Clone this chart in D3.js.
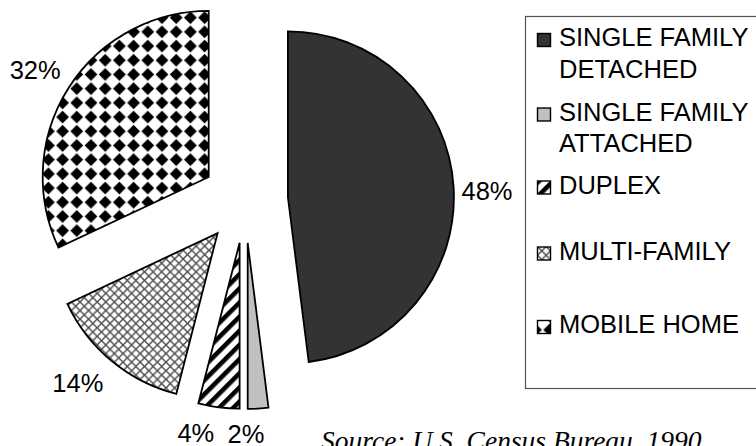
<!DOCTYPE html>
<html>
<head>
<meta charset="utf-8">
<script src="https://cdn.jsdelivr.net/npm/d3@7"></script>
<style>
  html, body { margin: 0; padding: 0; background: #fff; }
  svg { display: block; }
</style>
</head>
<body>
<svg id="chart" width="756" height="446"></svg>
<script>
// Housing types, share of units (percent)
const categories = [
  "SINGLE FAMILY DETACHED",
  "SINGLE FAMILY ATTACHED",
  "DUPLEX",
  "MULTI-FAMILY",
  "MOBILE HOME"
];
const shares = [48, 2, 4, 14, 32];
const shareLabels = ["48%", "2%", "4%", "14%", "32%"];
const sourceNote = "Source:  U.S. Census Bureau,  1990";

// ---- layout / style ----
const W = 756, H = 446;
const cx = 245, cy = 200;      // pie centre before slices are pulled out
const R = 166;                 // pie radius
const explode = 43;            // distance each slice is pulled out
const labelR = 202;            // radius for percentage labels
// small label nudges so neighbouring labels don't collide
const labelNudge = [[-2.5, 6.5], [-14.5, -11], [-18.5, -10], [-11, -6], [-3, 0.7]];
const fills = ["#333333", "#c0c0c0", "url(#pat-duplex)", "url(#pat-multi)", "url(#pat-mobile)"];
const sansFont = "'Liberation Sans', Arial, Helvetica, sans-serif";

const svg = d3.select("#chart");
const defs = svg.append("defs");

// mobile home: black diamond checker
{
  const s = 14.2, h = 6.4;
  const p = defs.append("pattern").attr("id", "pat-mobile")
    .attr("patternUnits", "userSpaceOnUse").attr("width", s).attr("height", s)
    .attr("x", 3).attr("y", 4);
  p.append("rect").attr("width", s).attr("height", s).attr("fill", "#fff");
  p.append("path").attr("fill", "#000")
    .attr("d", `M${s/2},${s/2-h} L${s/2+h},${s/2} L${s/2},${s/2+h} L${s/2-h},${s/2} Z`);
}
// multi-family: diagonal crosshatch
{
  const s = 8.6;
  const p = defs.append("pattern").attr("id", "pat-multi")
    .attr("patternUnits", "userSpaceOnUse").attr("width", s).attr("height", s);
  p.append("rect").attr("width", s).attr("height", s).attr("fill", "#fff");
  p.append("path").attr("stroke", "#4a4a4a").attr("stroke-width", 1.4).attr("fill", "none")
    .attr("d", `M0,0 L${s},${s} M0,${s} L${s},0 M${-s/2},${s/2} L${s/2},${s*1.5}`);
}
// duplex: wide diagonal stripes
{
  const s = 10;
  const p = defs.append("pattern").attr("id", "pat-duplex")
    .attr("patternUnits", "userSpaceOnUse").attr("width", s).attr("height", s)
    .attr("patternTransform", "rotate(45)");
  p.append("rect").attr("width", s).attr("height", s).attr("fill", "#fff");
  p.append("rect").attr("width", 4.6).attr("height", s).attr("fill", "#000");
}

// ---- pie ----
const pie = d3.pie().sort(null).value(d => d.value).startAngle(0).endAngle(2 * Math.PI);
const arc = d3.arc().innerRadius(0).outerRadius(R);
const rows = categories.map((c, i) => ({ name: c, value: shares[i], label: shareLabels[i], fill: fills[i], i }));
const arcs = pie(rows);

function offsetOf(d, dist) {
  const mid = (d.startAngle + d.endAngle) / 2;
  return [dist * Math.sin(mid), -dist * Math.cos(mid)];
}

const gPie = svg.append("g").attr("transform", `translate(${cx},${cy})`);

gPie.selectAll("path.slice")
  .data(arcs)
  .join("path")
  .attr("class", "slice")
  .attr("transform", d => { const [x, y] = offsetOf(d, explode); return `translate(${x},${y})`; })
  .attr("d", arc)
  .attr("fill", d => d.data.fill)
  .attr("stroke", "#000")
  .attr("stroke-width", 1.8)
  .attr("stroke-linejoin", "miter");

gPie.selectAll("text.pct")
  .data(arcs)
  .join("text")
  .attr("class", "pct")
  .attr("x", d => offsetOf(d, explode)[0] + offsetOf(d, labelR)[0] + labelNudge[d.data.i][0])
  .attr("y", d => offsetOf(d, explode)[1] + offsetOf(d, labelR)[1] + labelNudge[d.data.i][1])
  .attr("dy", "0.36em")
  .attr("text-anchor", "middle")
  .attr("font-family", sansFont)
  .attr("font-size", 25.5)
  .attr("fill", "#000")
  .text(d => d.data.label);

// ---- legend ----
const legendX = 525, legendY = 16, legendW = 260, legendH = 372;
const legendRowY = [46, 120.5, 193.5, 259.5, 333];   // baseline of each entry's first line
const legendLineGap = 31.5;

const gLeg = svg.append("g");
gLeg.append("rect")
  .attr("x", legendX + 0.5).attr("y", legendY + 0.5)
  .attr("width", legendW).attr("height", legendH)
  .attr("fill", "#fff").attr("stroke", "#555").attr("stroke-width", 1.2);

function wrap(name, maxChars) {
  const words = name.split(" "), lines = [];
  let cur = "";
  words.forEach(w => {
    const next = cur ? cur + " " + w : w;
    if (next.length > maxChars && cur) { lines.push(cur); cur = w; } else cur = next;
  });
  if (cur) lines.push(cur);
  return lines;
}

const entries = gLeg.selectAll("g.entry")
  .data(rows)
  .join("g")
  .attr("class", "entry")
  .attr("transform", d => `translate(0,${legendRowY[d.i]})`);

entries.append("rect")
  .attr("x", 537.5).attr("y", -12.5)
  .attr("width", 13).attr("height", 13)
  .attr("fill", d => d.fill)
  .attr("stroke", "#000").attr("stroke-width", 1.4);

entries.append("text")
  .attr("x", 559).attr("y", 0)
  .attr("font-family", sansFont)
  .attr("font-size", 25.5)
  .attr("fill", "#000")
  .selectAll("tspan")
  .data(d => wrap(d.name, 13))
  .join("tspan")
  .attr("x", 559)
  .attr("dy", (d, i) => i === 0 ? 0 : legendLineGap)
  .text(d => d);

// ---- source note (runs off the bottom edge) ----
svg.append("text")
  .attr("x", 321).attr("y", 450)
  .attr("font-family", "'Liberation Serif', 'Times New Roman', serif")
  .attr("font-style", "italic")
  .attr("font-size", 27.5)
  .attr("fill", "#000")
  .text(sourceNote);
</script>
</body>
</html>
